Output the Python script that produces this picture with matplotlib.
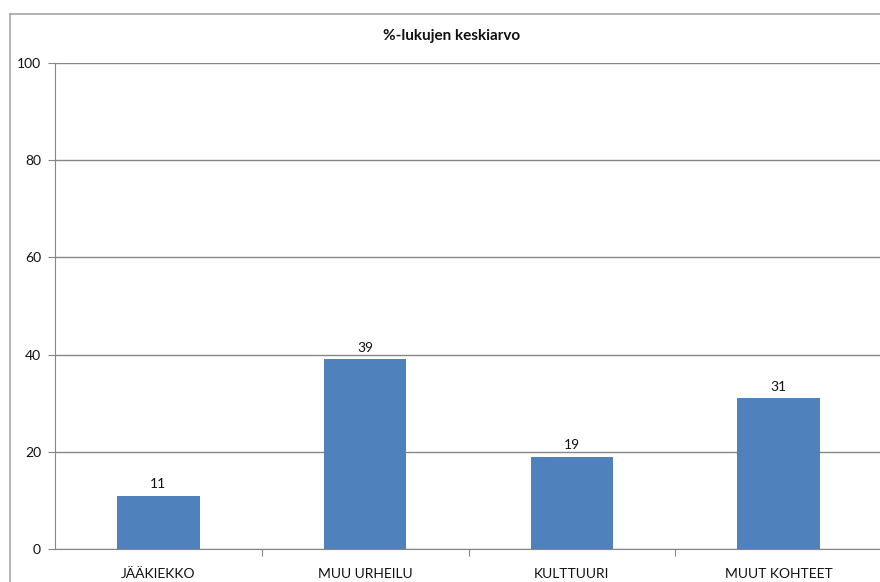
import matplotlib.pyplot as plt
from matplotlib.lines import Line2D

plt.rcParams['font.family'] = ['Lato', 'DejaVu Sans']

# data
categories = ["JÄÄKIEKKO", "MUU URHEILU", "KULTTUURI", "MUUT KOHTEET"]
values = [11, 39, 19, 31]
y_ticks = [0, 20, 40, 60, 80, 100]
title = "%-lukujen keskiarvo"

W, H = 880, 582
fig = plt.figure(figsize=(W / 100, H / 100), dpi=100)

# outer chart border: top edge and left edge only
border_top = 1 - 14 / H
border_left = 10 / W
fig.add_artist(Line2D([border_left, 1.0], [border_top, border_top],
                      transform=fig.transFigure, color="#a6a6a6", linewidth=1.2))
fig.add_artist(Line2D([border_left, border_left], [border_top, 0.0],
                      transform=fig.transFigure, color="#a6a6a6", linewidth=1.2))

ax = fig.add_axes([55 / W, (H - 549) / H, (882 - 55) / W, (549 - 63) / H])
x = range(len(categories))
ax.bar(x, values, width=0.4, color="#4f81bd", zorder=3)
for xi, v in zip(x, values):
    ax.text(xi, v + 1.2, str(v), ha="center", va="bottom", fontsize=10, color="#111111")

ax.set_xlim(-0.5, len(categories) - 0.5)
ax.set_ylim(0, 100)
ax.set_yticks(y_ticks)
ax.yaxis.grid(True, color="#868686", linewidth=1.0, zorder=0)

# category boundary ticks on the x axis
ax.set_xticks([i + 0.5 for i in range(len(categories) - 1)])
ax.set_xticklabels([])
ax.set_xticks(list(x), minor=True)
ax.set_xticklabels(categories, minor=True)
ax.tick_params(axis="x", which="minor", length=0, pad=14, labelsize=10, labelcolor="#111111")
ax.tick_params(axis="x", which="major", length=5, color="#868686")
ax.tick_params(axis="y", length=5, color="#868686", labelsize=10, labelcolor="#111111", pad=5)

for s in ["top", "right"]:
    ax.spines[s].set_visible(False)
ax.spines["left"].set_color("#868686")
ax.spines["bottom"].set_color("#868686")

fig.text(452 / W, 1 - 36 / H, title, ha="center", va="center",
         fontsize=11, fontweight="bold", color="#111111")

fig.savefig("out.png", dpi=100)
